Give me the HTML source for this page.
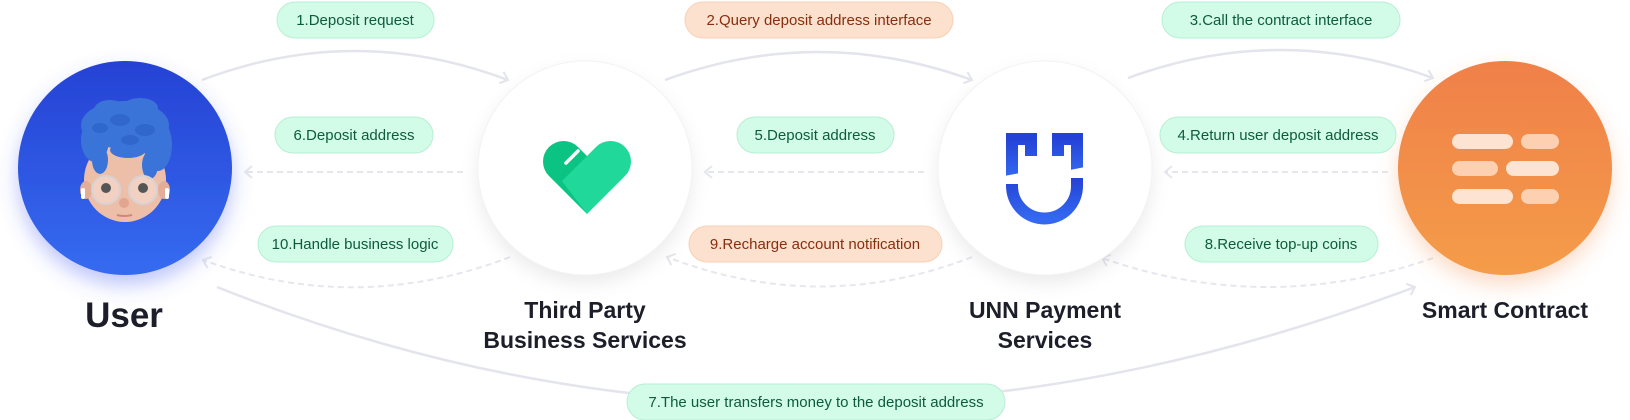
<!DOCTYPE html>
<html><head><meta charset="utf-8"><style>
html,body{margin:0;padding:0;background:#fff;}
svg{display:block;font-family:"Liberation Sans",sans-serif;}
</style></head><body>
<svg width="1630" height="420" viewBox="0 0 1630 420" xmlns="http://www.w3.org/2000/svg">
<defs>
<linearGradient id="gb" x1="0" y1="0" x2="0" y2="1"><stop offset="0" stop-color="#2642d4"/><stop offset="1" stop-color="#356bf0"/></linearGradient>
<linearGradient id="go" x1="0" y1="0" x2="0" y2="1"><stop offset="0" stop-color="#f08049"/><stop offset="1" stop-color="#f49c4a"/></linearGradient>
<linearGradient id="gu" x1="0" y1="0" x2="0" y2="1"><stop offset="0" stop-color="#2443d6"/><stop offset="1" stop-color="#3468f0"/></linearGradient>
<filter id="sh" x="-30%" y="-30%" width="160%" height="170%"><feDropShadow dx="0" dy="8" stdDeviation="9" flood-color="#000" flood-opacity="0.08"/></filter>
<filter id="shb" x="-30%" y="-30%" width="160%" height="170%"><feDropShadow dx="0" dy="10" stdDeviation="10" flood-color="#3f5cf0" flood-opacity="0.35"/></filter>
<filter id="sho" x="-30%" y="-30%" width="160%" height="170%"><feDropShadow dx="0" dy="10" stdDeviation="10" flood-color="#f08a49" flood-opacity="0.3"/></filter>
<marker id="ar" markerWidth="14" markerHeight="14" refX="10" refY="7" orient="auto" markerUnits="userSpaceOnUse"><path d="M3,1 L10,7 L3,13" fill="none" stroke="#e3e4ec" stroke-width="2"/></marker>
<marker id="ard" markerWidth="14" markerHeight="14" refX="10" refY="7" orient="auto" markerUnits="userSpaceOnUse"><path d="M3,1 L10,7 L3,13" fill="none" stroke="#e6e7ee" stroke-width="2"/></marker>
</defs>

<!-- solid top arcs -->
<g fill="none" stroke="#e3e4ec" stroke-width="2.5">
<path d="M202,80 Q355,22 508,80" marker-end="url(#ar)"/>
<path d="M665,80 Q818,24 972,80" marker-end="url(#ar)"/>
<path d="M1128,78 Q1280,22 1433,78" marker-end="url(#ar)"/>
<path d="M217,287 Q800,520 1415,287" marker-end="url(#ar)"/>
</g>
<!-- dashed -->
<g fill="none" stroke="#e6e7ee" stroke-width="2" stroke-dasharray="6,4">
<path d="M463,172 L245,172" marker-end="url(#ard)"/>
<path d="M924,172 L705,172" marker-end="url(#ard)"/>
<path d="M1388,172 L1165,172" marker-end="url(#ard)"/>
<path d="M510,257 Q356,316 203,260" marker-end="url(#ard)"/>
<path d="M972,257 Q820,316 667,257" marker-end="url(#ard)"/>
<path d="M1433,258 Q1268,316 1102,258" marker-end="url(#ard)"/>
</g>

<!-- circles -->
<circle cx="125" cy="168" r="107" fill="url(#gb)" filter="url(#shb)"/>
<circle cx="585" cy="168" r="107" fill="#fff" filter="url(#sh)"/>
<circle cx="585" cy="168" r="107" fill="none" stroke="#f3f3f5" stroke-width="1"/>
<circle cx="1045" cy="168" r="107" fill="#fff" filter="url(#sh)"/>
<circle cx="1045" cy="168" r="107" fill="none" stroke="#f3f3f5" stroke-width="1"/>
<circle cx="1505" cy="168" r="107" fill="url(#go)" filter="url(#sho)"/>

<!-- avatar -->
<g>
<ellipse cx="125" cy="180" rx="41" ry="42" fill="#eebfa8"/>
<ellipse cx="86" cy="190" rx="6" ry="9" fill="#e4ad97"/>
<ellipse cx="164" cy="190" rx="6" ry="9" fill="#e4ad97"/>
<rect x="81" y="188" width="4" height="11" rx="2" fill="#fff"/>
<rect x="165" y="188" width="4" height="11" rx="2" fill="#fff"/>
<g fill="#3a74d8">
<ellipse cx="125" cy="125" rx="44" ry="24"/>
<ellipse cx="95" cy="140" rx="14" ry="22"/>
<ellipse cx="158" cy="145" rx="14" ry="26"/>
<ellipse cx="110" cy="110" rx="16" ry="10"/>
<ellipse cx="140" cy="108" rx="18" ry="10"/>
<ellipse cx="100" cy="160" rx="8" ry="14"/>
<ellipse cx="150" cy="165" rx="8" ry="14"/>
<ellipse cx="128" cy="150" rx="18" ry="8"/>
</g>
<g fill="#2a5fc6" opacity="0.6">
<ellipse cx="120" cy="120" rx="10" ry="6"/><ellipse cx="145" cy="130" rx="10" ry="6"/><ellipse cx="100" cy="128" rx="8" ry="5"/><ellipse cx="130" cy="140" rx="9" ry="5"/>
</g>
<circle cx="106" cy="190" r="14" fill="#f6e3dc" stroke="#d8d2d2" stroke-width="2" fill-opacity="0.5"/>
<circle cx="143" cy="190" r="14" fill="#f6e3dc" stroke="#d8d2d2" stroke-width="2" fill-opacity="0.5"/>
<circle cx="106" cy="188" r="5" fill="#555"/>
<circle cx="143" cy="188" r="5" fill="#555"/>
<ellipse cx="124" cy="203" rx="5" ry="5" fill="#e2a690"/>
<path d="M117,215 Q124,217 132,215" stroke="#c98a7a" stroke-width="2" fill="none"/>
</g>

<!-- heart -->
<g>
<path d="M587,214 L549,176 A20,20 0 0 1 578,147 L587,156 Z" fill="#0bc383"/>
<path d="M587,214 L625,176 A20,20 0 0 0 596,147 L562,181 Z" fill="#20d899"/>
<path d="M566,163 L578,151" stroke="#fff" stroke-width="3.5" stroke-linecap="round"/>
</g>

<!-- UNN logo -->
<g fill="none" stroke="url(#gu)" stroke-width="12">
<path d="M1012,177 V139 H1031 V156"/>
<path d="M1077,173 V139 H1058 V156"/>
<path d="M1012,184 V186 A32,32 0 0 0 1077,186 V178"/>
</g>
<path d="M1004,176 L1020,173 L1020,181 L1004,184 Z" fill="#fff"/>
<path d="M1070,170 L1085,167 L1085,175 L1070,178 Z" fill="#fff"/>

<!-- contract icon -->
<g>
<rect x="1452" y="134" width="61" height="15" rx="7.5" fill="#fde3d2"/>
<rect x="1521" y="134" width="38" height="15" rx="7.5" fill="#fcd0b0"/>
<rect x="1452" y="161" width="46" height="15" rx="7.5" fill="#fcd0b0"/>
<rect x="1506" y="161" width="53" height="15" rx="7.5" fill="#fde3d2"/>
<rect x="1452" y="189" width="61" height="15" rx="7.5" fill="#fde3d2"/>
<rect x="1521" y="189" width="38" height="15" rx="7.5" fill="#fcd0b0"/>
</g>

<!-- node labels -->
<g fill="#1c1e2a" font-weight="bold" text-anchor="middle">
<text x="124" y="327" font-size="35">User</text>
<text x="585" y="318" font-size="23">Third Party</text>
<text x="585" y="348" font-size="23">Business Services</text>
<text x="1045" y="318" font-size="23">UNN Payment</text>
<text x="1045" y="348" font-size="23">Services</text>
<text x="1505" y="318" font-size="23">Smart Contract</text>
</g>

<!-- pills -->
<g font-size="15" text-anchor="middle">
<g fill="#d2fbe8" stroke="#b7efd4" stroke-width="1">
<rect x="277" y="2" width="157" height="36" rx="18"/>
<rect x="1162" y="2" width="238" height="36" rx="18"/>
<rect x="275" y="117" width="158" height="36" rx="18"/>
<rect x="737" y="117" width="157" height="36" rx="18"/>
<rect x="1160" y="117" width="236" height="36" rx="18"/>
<rect x="258" y="226" width="195" height="36" rx="18"/>
<rect x="1185" y="226" width="193" height="36" rx="18"/>
<rect x="627" y="384" width="378" height="36" rx="18"/>
</g>
<g fill="#fde1cf" stroke="#f9d0b4" stroke-width="1">
<rect x="685" y="2" width="268" height="36" rx="18"/>
<rect x="689" y="226" width="253" height="36" rx="18"/>
</g>
<g fill="#0c5c3c">
<text x="355" y="25">1.Deposit request</text>
<text x="1281" y="25">3.Call the contract interface</text>
<text x="354" y="140">6.Deposit address</text>
<text x="815" y="140">5.Deposit address</text>
<text x="1278" y="140">4.Return user deposit address</text>
<text x="355" y="249">10.Handle business logic</text>
<text x="1281" y="249">8.Receive top-up coins</text>
<text x="816" y="407">7.The user transfers money to the deposit address</text>
</g>
<g fill="#8a2d0c">
<text x="819" y="25">2.Query deposit address interface</text>
<text x="815" y="249">9.Recharge account notification</text>
</g>
</g>
</svg>
</body></html>
